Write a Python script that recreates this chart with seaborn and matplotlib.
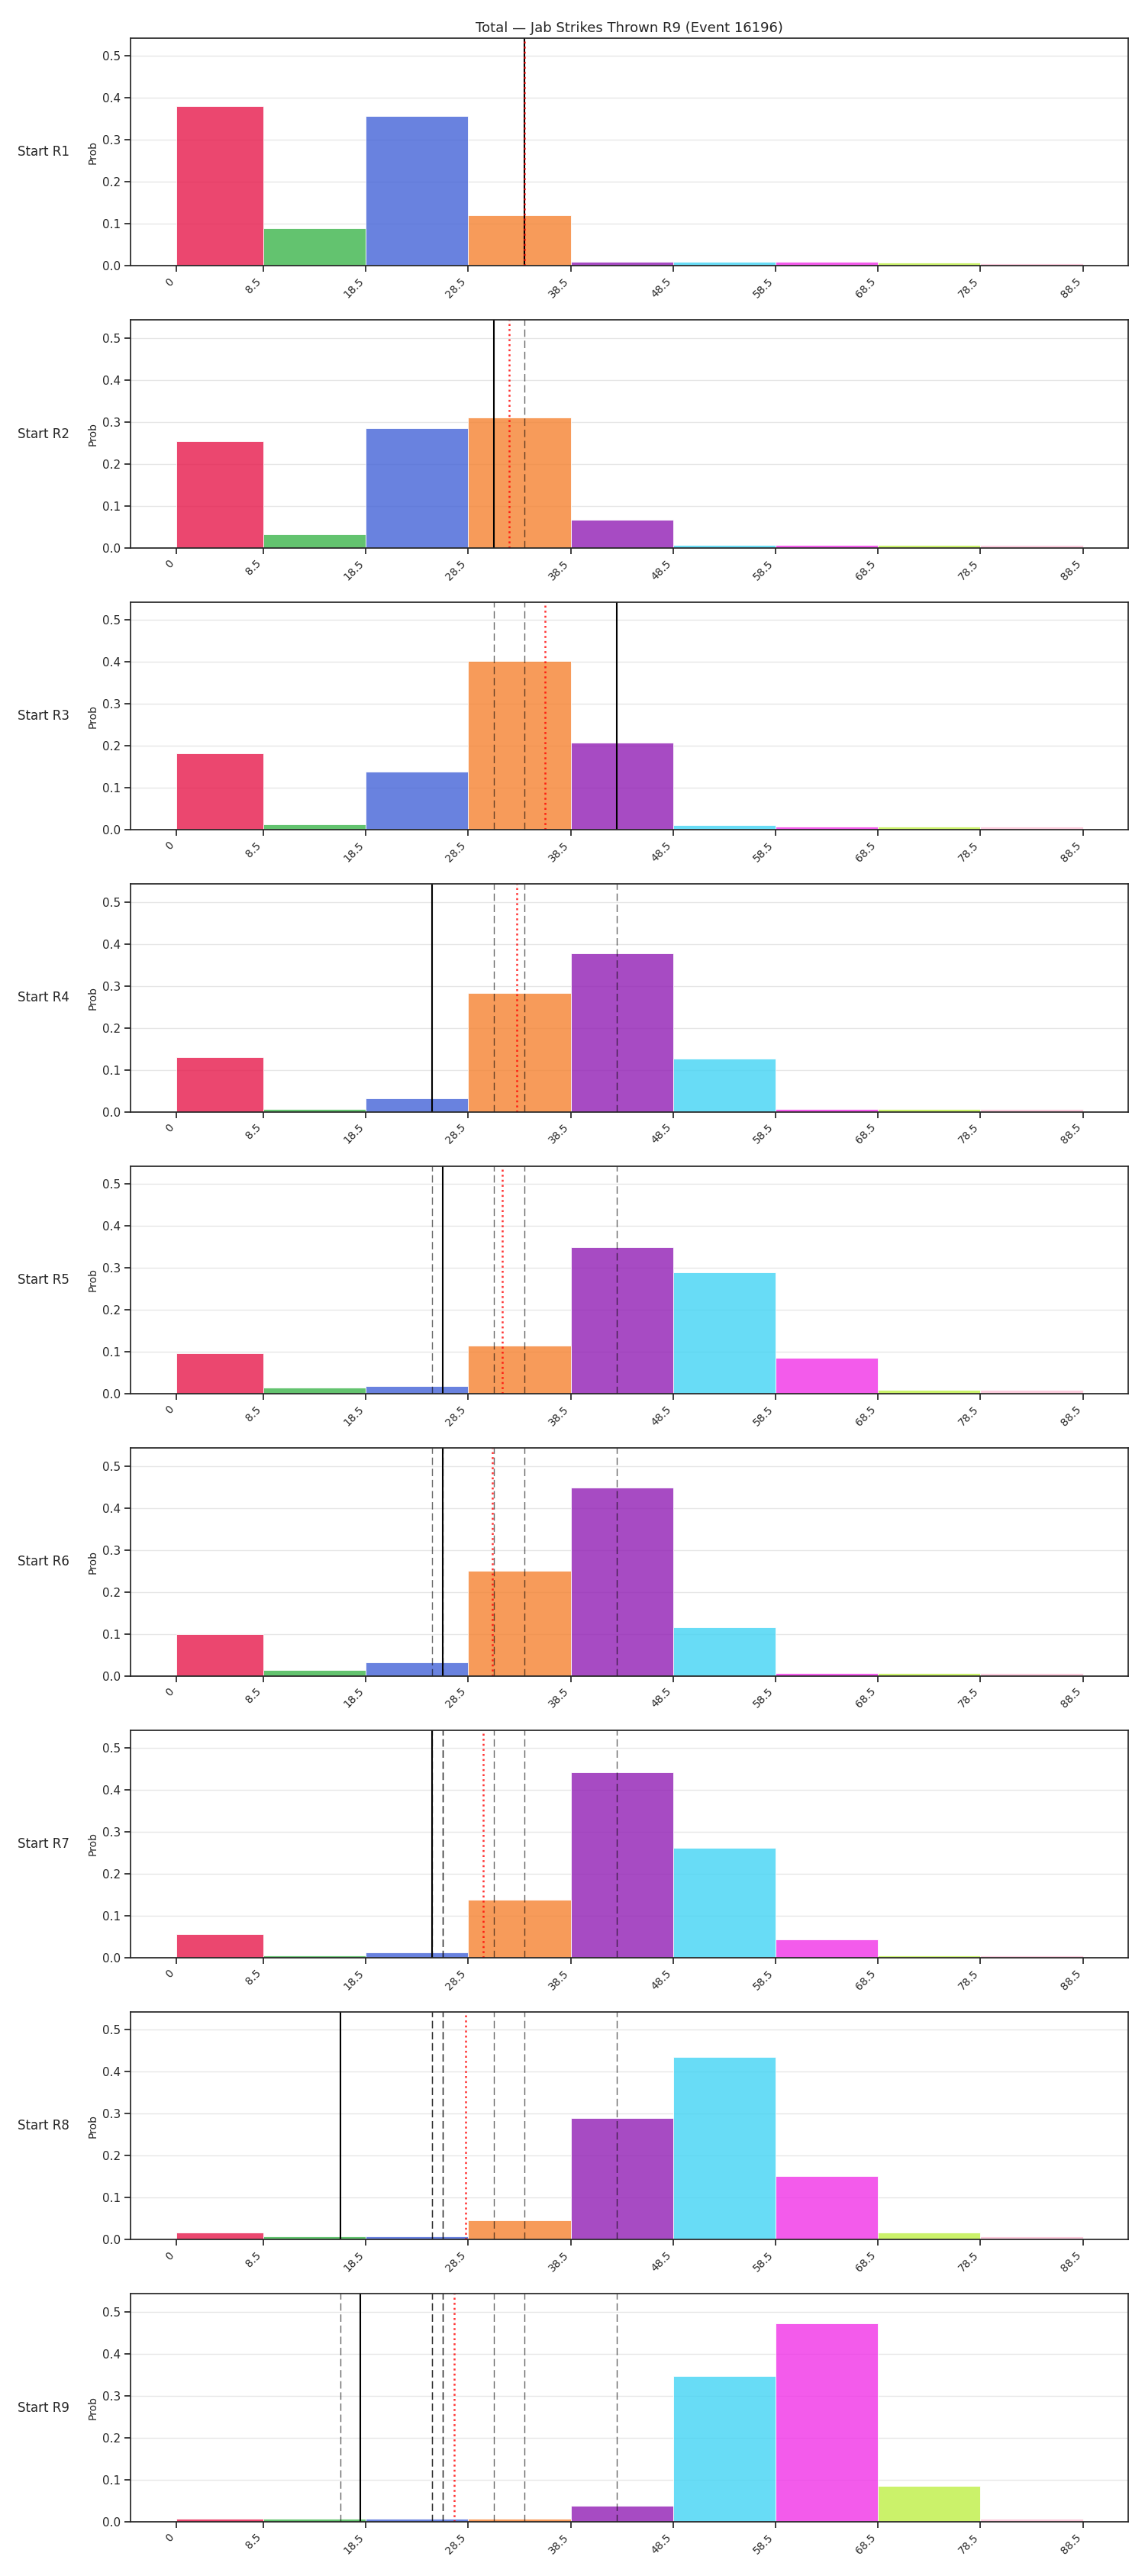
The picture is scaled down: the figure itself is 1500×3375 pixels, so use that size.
import numpy as np
import pandas as pd
import matplotlib
matplotlib.use("Agg")
import matplotlib.pyplot as plt
import seaborn as sns

# bins of the jab count and their colours
bin_edges = [0, 8.5, 18.5, 28.5, 38.5, 48.5, 58.5, 68.5, 78.5, 88.5]
tick_labels = ['0', '8.5', '18.5', '28.5', '38.5', '48.5', '58.5', '68.5', '78.5', '88.5']
bin_names = ['0-8.5', '8.5-18.5', '18.5-28.5', '28.5-38.5', '38.5-48.5',
             '48.5-58.5', '58.5-68.5', '68.5-78.5', '78.5-88.5']
bin_colors = ['#e6194b', '#3cb44b', '#4363d8', '#f58231', '#911eb4',
              '#42d4f4', '#f032e6', '#bfef45', '#fabed4']

rounds = ['R1', 'R2', 'R3', 'R4', 'R5', 'R6', 'R7', 'R8', 'R9']

# actual jabs thrown in each round (solid black line)
actual = [34, 31, 43, 25, 26, 26, 25, 16, 18]

# predicted probability per bin, one list per starting round
probs_r1 = [0.380, 0.089, 0.357, 0.120, 0.009, 0.009, 0.009, 0.008, 0.007]
probs_r2 = [0.255, 0.032, 0.286, 0.311, 0.067, 0.007, 0.007, 0.007, 0.007]
probs_r3 = [0.182, 0.013, 0.139, 0.402, 0.207, 0.012, 0.008, 0.008, 0.008]
probs_r4 = [0.131, 0.007, 0.033, 0.284, 0.378, 0.127, 0.007, 0.007, 0.007]
probs_r5 = [0.096, 0.014, 0.018, 0.114, 0.350, 0.290, 0.085, 0.010, 0.009]
probs_r6 = [0.100, 0.014, 0.031, 0.251, 0.448, 0.116, 0.007, 0.007, 0.007]
probs_r7 = [0.056, 0.006, 0.012, 0.139, 0.441, 0.262, 0.043, 0.006, 0.006]
probs_r8 = [0.017, 0.008, 0.008, 0.046, 0.289, 0.435, 0.152, 0.017, 0.008]
probs_r9 = [0.007, 0.007, 0.007, 0.007, 0.038, 0.347, 0.472, 0.086, 0.007]
all_probs = [probs_r1, probs_r2, probs_r3, probs_r4, probs_r5,
             probs_r6, probs_r7, probs_r8, probs_r9]

sns.set_theme(style="ticks", context="notebook")
plt.rcParams['font.family'] = ['DejaVu Sans']

fig, axes = plt.subplots(len(rounds), 1, figsize=(15, 33.75), dpi=100)
fig.subplots_adjust(left=0.1143, right=0.9853, top=0.9852, bottom=0.0211, hspace=0.238)

mids = [(a + b) / 2 for a, b in zip(bin_edges[:-1], bin_edges[1:])]
running_mean = np.cumsum(actual) / np.arange(1, len(actual) + 1)
ymax = max(max(p) for p in all_probs) * 1.15

for i, (ax, rnd, probs) in enumerate(zip(axes, rounds, all_probs)):
    df = pd.DataFrame({'mid': mids, 'prob': probs, 'bin': bin_names})
    sns.histplot(data=df, x='mid', weights='prob', bins=bin_edges, hue='bin',
                 hue_order=bin_names, palette=bin_colors, alpha=0.8,
                 edgecolor='white', linewidth=0.6, legend=False, ax=ax)

    # earlier rounds' actuals
    for prev in actual[:i]:
        ax.axvline(prev, color='black', alpha=0.6, lw=1, ls=(0, (7, 3.5)))
    ax.axvline(actual[i], color='black', lw=1.5)
    ax.axvline(running_mean[i], color='red', alpha=0.8, lw=1.8, ls=':')

    ax.set_ylim(0, ymax)
    ax.set_xticks(bin_edges)
    ax.set_xticklabels(tick_labels, rotation=45, ha='right', fontsize=10)
    ax.tick_params(axis='y', labelsize=11)
    ax.grid(axis='y', color='0.9', lw=1)
    ax.set_xlabel('')
    ax.set_ylabel('Prob', fontsize=10)
    ax.text(-0.1134, 0.5, f'Start {rnd}', transform=ax.transAxes,
            ha='left', va='center', fontsize=12)
    for side in ['top', 'right']:
        ax.spines[side].set_visible(True)

axes[0].set_title('Total — Jab Strikes Thrown R9 (Event 16196)', fontsize=13)

plt.savefig('out.png', dpi=100)
